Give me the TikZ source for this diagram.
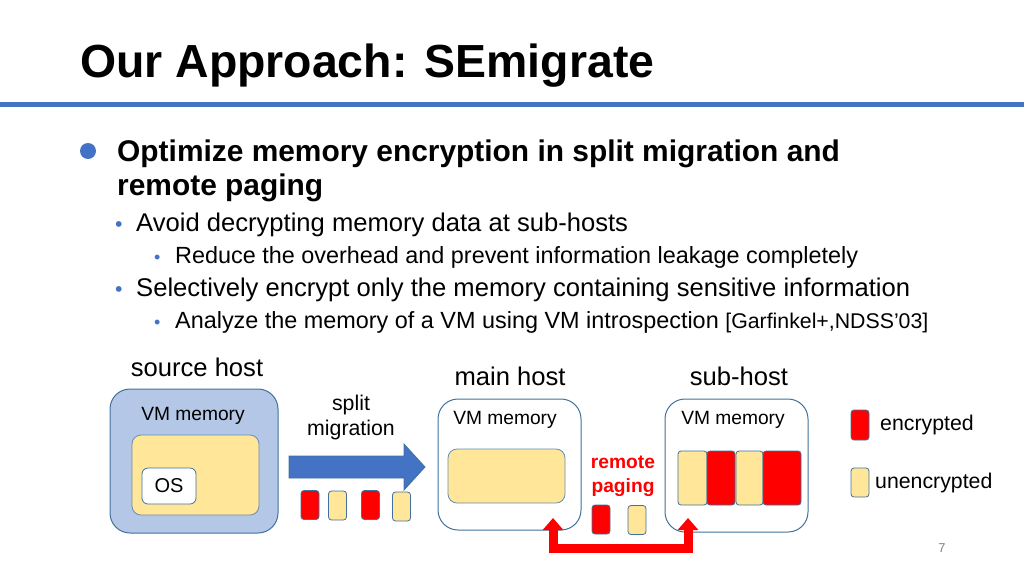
\documentclass[tikz,border=0pt]{standalone}
\usepackage{fontspec}
\setmainfont{Liberation Sans}
\usetikzlibrary{arrows.meta,calc}
\definecolor{accent}{HTML}{4472C4}
\definecolor{lightacc}{HTML}{B4C7E7}
\definecolor{frame}{HTML}{41719C}
\definecolor{plainfill}{HTML}{FFE699}
\definecolor{encfill}{HTML}{FF0000}
\newcommand{\fsz}[2]{\fontsize{#1}{#2}\selectfont}
\tikzset{
    >=Stealth,
    slide/.style={x=1pt,y=-1pt,
        host/.append style={draw=frame,line width=1pt,rounded corners=20pt,inner sep=0pt},
        mem/.append style={draw=frame!80,line width=0.8pt,fill=plainfill,rounded corners=9pt,inner sep=0pt},
        enc/.append style={draw=frame,line width=0.8pt,fill=encfill,rounded corners=3pt,inner sep=0pt,minimum width=18pt,minimum height=29pt},
        plain/.append style={draw=frame,line width=0.8pt,fill=plainfill,rounded corners=3pt,inner sep=0pt,minimum width=18pt,minimum height=29pt},
        vm/.append style={font=\fsz{19.2}{23}},
        hostlabel/.append style={font=\fsz{25.6}{30}},
        txt/.append style={anchor=base west,inner sep=0pt},
        dot/.append style={anchor=base west,inner sep=0pt,text=accent},
        paging/.append style={draw=encfill,line width=9pt,line join=miter,
            arrows={Triangle[width=20pt,length=12pt]-Triangle[width=20pt,length=12pt]}}
    }
}

\begin{document}
\begin{tikzpicture}[slide]
    \useasboundingbox (0,0) rectangle (1024,576);

    \node[txt,font=\bfseries\fsz{46.4}{56}] (title) at (80,77) {Our Approach: SEmigrate};
    \draw[accent,line width=5pt] (0,104.5) -- (1024,104.5);

    \node[circle,fill=accent,minimum size=16pt,inner sep=0pt] (b1) at (88,151) {};
    \node[txt,font=\bfseries\fsz{29.9}{34},align=left,anchor=north west] (l1) at (117,140)
        {Optimize memory encryption in split migration and\\remote paging};
    \node[dot,font=\fsz{21.3}{25}] (b2) at (115,231) {•};
    \node[txt,font=\fsz{25.6}{30}] (l2) at (136,231) {Avoid decrypting memory data at sub-hosts};
    \node[dot,font=\fsz{18}{20}] (b3) at (154,263) {•};
    \node[txt,font=\fsz{23.4}{27}] (l3) at (175,263) {Reduce the overhead and prevent information leakage completely};
    \node[dot,font=\fsz{21.3}{25}] (b4) at (115,296) {•};
    \node[txt,font=\fsz{25.6}{30}] (l4) at (136,296) {Selectively encrypt only the memory containing sensitive information};
    \node[dot,font=\fsz{18}{20}] (b5) at (154,328) {•};
    \node[txt,font=\fsz{23.4}{27}] (l5) at (175,328)
        {Analyze the memory of a VM using VM introspection {\fsz{21.3}{25}[Garfinkel+,NDSS’03]}};

    \node[hostlabel] (srclab) at (197,367) {source host};
    \node[host,fill=lightacc,minimum width=168pt,minimum height=144pt] (src) at (194,461) {};
    \node[vm] (srcvm) at (193,416) {VM memory};
    \node[mem,minimum width=127pt,minimum height=80pt] (srcmem) at (195.5,475) {};
    \node[draw=frame,fill=white,line width=0.8pt,rounded corners=6pt,minimum width=54pt,minimum height=36pt,
        font=\fsz{20}{24}] (os) at (169,486) {OS};

    \node[font=\fsz{21.3}{25},align=center] (split) at (351,417) {split\\migration};
    \fill[accent,draw=frame,line width=0.8pt] (289,456) -- (404,456) -- (404,444) -- (425,467)
        -- (404,490) -- (404,478) -- (289,478) -- cycle;
    \node[enc] (s1) at (310,505) {};
    \node[plain] (s2) at (337.5,505.5) {};
    \node[enc] (s3) at (370.5,505) {};
    \node[plain] (s4) at (401.5,506.5) {};

    \node[hostlabel] (mainlab) at (510,376) {main host};
    \node[host,fill=white,minimum width=143pt,minimum height=131pt] (main) at (509.5,464.5) {};
    \node[vm] (mainvm) at (505,420) {VM memory};
    \node[mem,minimum width=117pt,minimum height=54pt] (mainmem) at (506.5,476) {};

    \node[hostlabel] (sublab) at (739,376) {sub-host};
    \node[host,fill=white,minimum width=143pt,minimum height=133pt] (sub) at (736.5,465.5) {};
    \node[vm] (subvm) at (733,420) {VM memory};
    \node[plain,minimum width=29pt,minimum height=54pt] (m1) at (692.5,478) {};
    \node[enc,minimum width=28pt,minimum height=54pt] (m2) at (721,478) {};
    \node[plain,minimum width=27pt,minimum height=54pt] (m3) at (749.5,478) {};
    \node[enc,minimum width=38pt,minimum height=54pt] (m4) at (782,478) {};

    \node[font=\bfseries\fsz{19.2}{24},text=encfill,align=center] (remote) at (623,476) {remote\\paging};
    \node[enc] (r1) at (601,519.5) {};
    \node[plain] (r2) at (637,520) {};
    \coordinate (pin) at (553,518);
    \coordinate (pout) at (688,518);
    \draw[paging] (pin) -- ++(0,30) -| (pout);

    \node[enc,minimum height=30pt] (kenc) at (860,425) {};
    \node[txt,font=\fsz{21.3}{25},anchor=west] (kenctxt) at (880,425) {encrypted};
    \node[plain] (kplain) at (860,482.5) {};
    \node[txt,font=\fsz{21.3}{25},anchor=west] (kplaintxt) at (875,482.5) {unencrypted};

    \node[font=\fsz{12.8}{15},text=gray] (pnum) at (942,548) {7};
\end{tikzpicture}
\end{document}
